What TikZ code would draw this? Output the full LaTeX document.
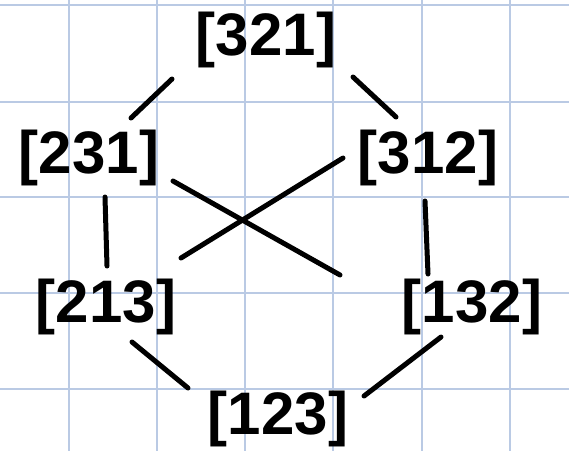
\documentclass[tikz,border=0pt]{standalone}
\usepackage{fontspec}
\setmainfont{Liberation Sans}
\definecolor{gridblue}{RGB}{186,202,228}
\begin{document}
\begin{tikzpicture}[x=1pt,y=-1pt,
  lbl/.style={font=\fontsize{60}{60}\selectfont\bfseries, inner sep=0pt, text=black},
  edge/.style={line width=5pt, line cap=round, black},
  gridline/.style={gridblue, line width=1.5pt}]
\fill[white] (0,0) rectangle (569,451);
\useasboundingbox (0,0) rectangle (569,451);
\foreach \x in {69,157,245,333,422,510} \draw[gridline] (\x,0) -- (\x,451);
\foreach \y in {5,102,197,293,389} \draw[gridline] (0,\y) -- (569,\y);
\node[lbl] (n321) at (266,40) {[321]};
\node[lbl] (n231) at (89,158) {[231]};
\node[lbl] (n312) at (428,158) {[312]};
\node[lbl] (n213) at (106,307) {[213]};
\node[lbl] (n132) at (472,307) {[132]};
\node[lbl] (n123) at (278,419) {[123]};
% connector end points
\coordinate (a1) at (172,79);  \coordinate (a2) at (131,118);
\coordinate (b1) at (353,77);  \coordinate (b2) at (396,117);
\coordinate (c1) at (173,181); \coordinate (c2) at (340,275);
\coordinate (d1) at (343,158); \coordinate (d2) at (181,258);
\coordinate (e1) at (105,197); \coordinate (e2) at (107,266);
\coordinate (f1) at (425,201); \coordinate (f2) at (428,274);
\coordinate (g1) at (132,342); \coordinate (g2) at (188,388);
\coordinate (h1) at (441,337); \coordinate (h2) at (364,396);
\draw[edge] (a1) -- (a2);
\draw[edge] (b1) -- (b2);
\draw[edge] (c1) -- (c2);
\draw[edge] (d1) -- (d2);
\draw[edge] (e1) -- (e2);
\draw[edge] (f1) -- (f2);
\draw[edge] (g1) -- (g2);
\draw[edge] (h1) -- (h2);
\end{tikzpicture}
\end{document}
